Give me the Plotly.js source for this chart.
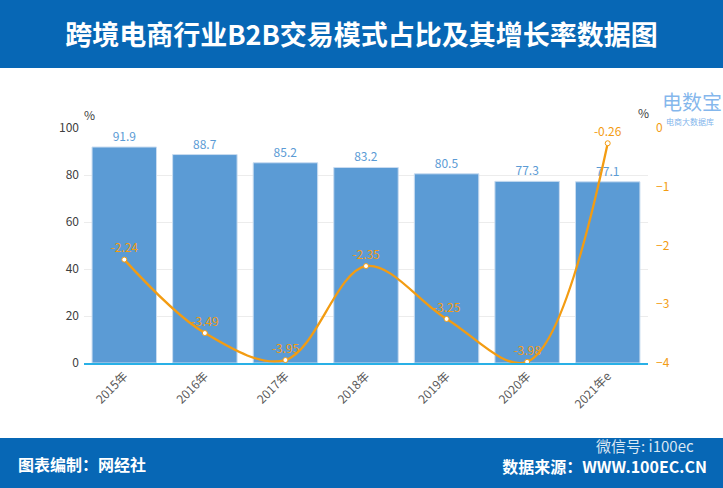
<!DOCTYPE html>
<html>
<head>
<meta charset="utf-8">
<script src="https://cdn.plot.ly/plotly-3.0.1.min.js"></script>
<style>
  html,body{margin:0;padding:0;background:#fff;}
  #wrap{position:relative;width:723px;height:488px;overflow:hidden;font-family:"Noto Sans CJK SC","Noto Sans",sans-serif;}
  #head{position:absolute;left:0;top:0;width:723px;height:68px;background:#0767b5;color:#fff;
        font-size:27px;font-weight:bold;text-align:center;line-height:68px;}
  #foot{position:absolute;left:0;top:438px;width:723px;height:50px;background:#0767b5;color:#fff;
        font-size:16px;font-weight:bold;}
  #foot .l{position:absolute;left:18px;top:14px;}
  #foot .r{position:absolute;right:16px;top:16px;}
  #foot .wm{position:absolute;left:596px;top:-2px;font-size:15px;line-height:20px;font-weight:normal;color:rgba(255,255,255,0.85);}
  #plot{position:absolute;left:0;top:0;width:723px;height:488px;}
</style>
</head>
<body>
<div id="wrap">
  <div id="plot"></div>
  <div id="head">跨境电商行业B2B交易模式占比及其增长率数据图</div>
  <div id="foot">
    <span class="l">图表编制：网经社</span>
    <span class="r">数据来源：WWW.100EC.CN</span>
    <span class="wm">微信号: i100ec</span>
  </div>
</div>
<script>
  // B2B share (%) and its growth rate (%)
  const years = ['2015年','2016年','2017年','2018年','2019年','2020年','2021年e'];
  const share = [91.9, 88.7, 85.2, 83.2, 80.5, 77.3, 77.1];
  const growth = [-2.24, -3.49, -3.95, -2.35, -3.25, -3.98, -0.26];
  const leftTicks = [0, 20, 40, 60, 80, 100];
  const rightTicks = [0, -1, -2, -3, -4];

  const BAR_BLUE = '#5b9bd5';
  const ORANGE = '#f39c12';
  const CJK = '"Noto Sans CJK SC", "Noto Sans", sans-serif';

  const bars = {
    type: 'bar',
    x: years,
    y: share,
    marker: {color: BAR_BLUE, line: {color: '#c9dcf0', width: 1}},
    text: share.map(v => v.toFixed(1)),
    textposition: 'outside',
    cliponaxis: false,
    textfont: {color: BAR_BLUE, size: 12, family: CJK},
    hoverinfo: 'none'
  };

  const line = {
    type: 'scatter',
    x: years,
    y: growth,
    yaxis: 'y2',
    mode: 'lines+markers+text',
    line: {color: ORANGE, width: 2.3, shape: 'spline', smoothing: 1},
    marker: {size: 5, color: '#fff', line: {color: ORANGE, width: 1}},
    text: growth.map(v => v.toFixed(2)),
    textposition: 'top center',
    cliponaxis: false,
    textfont: {color: ORANGE, size: 12, family: CJK},
    hoverinfo: 'none'
  };

  const layout = {
    width: 723,
    height: 488,
    margin: {l: 84, r: 75, t: 128, b: 125},
    paper_bgcolor: '#fff',
    plot_bgcolor: '#fff',
    showlegend: false,
    bargap: 0.2,
    font: {family: CJK, color: '#595959', size: 12},
    xaxis: {
      tickangle: -45,
      showline: true,
      linecolor: '#29b0e6',
      linewidth: 1.5,
      ticks: '',
      tickfont: {size: 12, color: '#595959'}
    },
    yaxis: {
      range: [0, 100],
      tickvals: leftTicks,
      gridcolor: '#ececec',
      zeroline: false,
      ticks: '',
      ticklabelstandoff: 4,
      tickfont: {size: 12, color: '#404040'}
    },
    yaxis2: {
      overlaying: 'y',
      side: 'right',
      range: [-4, 0],
      tickvals: rightTicks,
      showgrid: false,
      zeroline: false,
      ticks: '',
      ticklabelstandoff: 7,
      tickfont: {size: 12, color: ORANGE}
    },
    annotations: [
      {xref: 'paper', yref: 'paper', x: 0, y: 1, xshift: -2, yshift: 24, text: '%', showarrow: false,
       font: {size: 12, color: '#404040'}},
      {xref: 'paper', yref: 'paper', x: 1, y: 1, xshift: 3, yshift: 26, text: '%', showarrow: false,
       font: {size: 12, color: '#404040'}},
      {xref: 'paper', yref: 'paper', x: 1, y: 1, xanchor: 'left', xshift: 12, yshift: 43, text: '电数宝', showarrow: false,
       font: {size: 20, color: 'rgba(91,160,230,0.75)'}},
      {xref: 'paper', yref: 'paper', x: 1, y: 1, xanchor: 'left', xshift: 16, yshift: 14, text: '电商大数据库', showarrow: false,
       font: {size: 8, color: 'rgba(91,160,230,0.8)'}}
    ]
  };

  Plotly.newPlot('plot', [bars, line], layout, {displayModeBar: false, staticPlot: true});
</script>
</body>
</html>
